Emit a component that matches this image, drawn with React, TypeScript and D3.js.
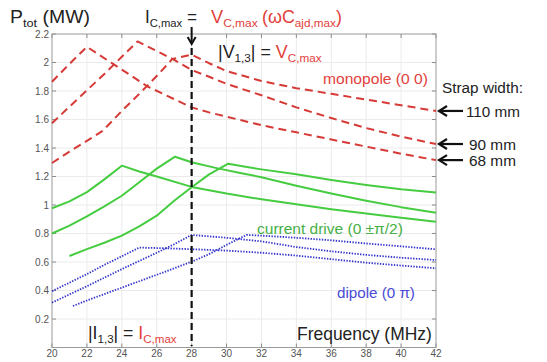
import React, { useLayoutEffect, useRef, useState } from "react";
import * as d3 from "d3";

// ---- data (frequency in MHz, P_tot in MW) ----
const xTicks = [20, 22, 24, 26, 28, 30, 32, 34, 36, 38, 40, 42];
const yTicks = [0.2, 0.4, 0.6, 0.8, 1, 1.2, 1.4, 1.6, 1.8, 2, 2.2];

const freqMono68 = [20, 21, 22, 23.5, 25.5, 28, 29, 30, 32, 34, 36, 38, 40, 42];
const ptotMono68 = [1.865, 1.99, 2.11, 1.99, 1.83, 1.685, 1.65, 1.62, 1.56, 1.51, 1.46, 1.41, 1.36, 1.315];

const freqMono90 = [20, 21, 22, 23, 24, 24.9, 26, 26.9, 28, 29, 30, 32, 34, 36, 38, 40, 42];
const ptotMono90 = [1.573, 1.69, 1.805, 1.92, 2.04, 2.148, 2.08, 2.025, 1.947, 1.9, 1.85, 1.77, 1.685, 1.61, 1.54, 1.48, 1.428];

const freqMono110 = [20, 21, 22, 22.9, 24, 25, 26, 26.9, 28, 29, 30, 32, 34, 36, 38, 40, 42];
const ptotMono110 = [1.295, 1.375, 1.45, 1.52, 1.66, 1.78, 1.905, 2.025, 2.055, 1.995, 1.94, 1.87, 1.82, 1.78, 1.74, 1.7, 1.66];

const freqCur68 = [20, 21, 22, 23, 24, 25, 26, 28, 30, 32, 34, 36, 38, 40, 42];
const ptotCur68 = [0.977, 1.025, 1.09, 1.18, 1.276, 1.235, 1.2, 1.127, 1.08, 1.04, 1.005, 0.97, 0.94, 0.91, 0.883];

const freqCur90 = [20, 21, 22, 23, 24, 25, 26, 27.05, 28, 29.5, 31, 32, 34, 36, 38, 40, 42];
const ptotCur90 = [0.8, 0.855, 0.92, 0.99, 1.065, 1.16, 1.255, 1.339, 1.3, 1.257, 1.22, 1.195, 1.135, 1.08, 1.03, 0.985, 0.946];

const freqCur110 = [21, 22, 23, 24, 25, 26, 27, 28, 29, 30.1, 31, 32, 34, 36, 38, 40, 42];
const ptotCur110 = [0.642, 0.69, 0.735, 0.785, 0.85, 0.925, 1.03, 1.125, 1.215, 1.29, 1.27, 1.25, 1.215, 1.175, 1.14, 1.11, 1.087];

const freqDip68 = [20, 21, 22, 23, 24, 25, 26, 28, 30, 32, 34, 36, 38, 40, 42];
const ptotDip68 = [0.395, 0.455, 0.515, 0.58, 0.64, 0.701, 0.698, 0.69, 0.68, 0.665, 0.645, 0.62, 0.595, 0.575, 0.556];

const freqDip90 = [20, 22, 24, 26, 27, 28, 30, 32, 34, 36, 38, 40, 42];
const ptotDip90 = [0.315, 0.43, 0.55, 0.665, 0.725, 0.79, 0.77, 0.745, 0.705, 0.675, 0.65, 0.63, 0.614];

const freqDip110 = [21.2, 22, 24, 26, 28, 29, 30, 31.15, 32, 34, 36, 38, 40, 42];
const ptotDip110 = [0.291, 0.33, 0.42, 0.51, 0.602, 0.655, 0.72, 0.79, 0.785, 0.77, 0.752, 0.73, 0.71, 0.689];

const strapLabels = ["110 mm", "90 mm", "68 mm"];
const strapEnds = [ptotMono110[ptotMono110.length - 1], ptotMono90[ptotMono90.length - 1], ptotMono68[ptotMono68.length - 1]];
const markerFreq = 28;

const RED_LINE = "#d63a36";
const RED_TEXT = "#e2403b";
const GREEN_LINE = "#46cc40";
const GREEN_TEXT = "#45b045";
const BLUE_LINE = "#3434cc";
const BLUE_TEXT = "#4a4ad6";
const FONT = "'Liberation Sans', Arial, Helvetica, sans-serif";

// Text whose horizontal extent is fitted to a target width (x = left edge, y = baseline)
function FitText({ x, y, width, children, ...rest }: any) {
  const ref = useRef<SVGTextElement>(null);
  const [s, setS] = useState(1);
  useLayoutEffect(() => {
    if (ref.current) {
      const w = ref.current.getBBox().width;
      if (w > 0) setS(width / w);
    }
  }, [width]);
  return (
    <g transform={`translate(${x},${y}) scale(${s},1)`}>
      <text ref={ref} x={0} y={0} {...rest}>{children}</text>
    </g>
  );
}

export default function App() {
  const W = 547, H = 362;
  const x = d3.scaleLinear().domain([20, 42]).range([52, 436]);
  const y = d3.scaleLinear().domain([0, 2.2]).range([347.5, 34]);
  const line = d3.line<[number, number]>().x((d) => x(d[0])).y((d) => y(d[1]));
  const path = (xs: number[], ys: number[]) => line(xs.map((v, i) => [v, ys[i]] as [number, number])) || "";

  const series = [
    { xs: freqMono68, ys: ptotMono68, color: RED_LINE, dash: "8,5", w: 2 },
    { xs: freqMono90, ys: ptotMono90, color: RED_LINE, dash: "8,5", w: 2 },
    { xs: freqMono110, ys: ptotMono110, color: RED_LINE, dash: "8,5", w: 2 },
    { xs: freqCur68, ys: ptotCur68, color: GREEN_LINE, dash: null, w: 2 },
    { xs: freqCur90, ys: ptotCur90, color: GREEN_LINE, dash: null, w: 2 },
    { xs: freqCur110, ys: ptotCur110, color: GREEN_LINE, dash: null, w: 2 },
    { xs: freqDip68, ys: ptotDip68, color: BLUE_LINE, dash: "1.4,1.4", w: 1.8 },
    { xs: freqDip90, ys: ptotDip90, color: BLUE_LINE, dash: "1.4,1.4", w: 1.8 },
    { xs: freqDip110, ys: ptotDip110, color: BLUE_LINE, dash: "1.4,1.4", w: 1.8 },
  ];

  const x0 = x(20), x1 = x(42), y0 = y(0), y1 = y(2.2);
  const xm = x(markerFreq);
  const big = 17.5, sub = 11.5, lab = 15.5;

  return (
    <svg width={W} height={H} style={{ position: "absolute", left: 0, top: 0, background: "#fff" }} fontFamily={FONT}>
      <rect x={0} y={0} width={W} height={H} fill="#fff" />
      {/* grid */}
      {xTicks.slice(1, -1).map((t) => (
        <line key={"gx" + t} x1={x(t)} x2={x(t)} y1={y1} y2={y0} stroke="#ebebeb" strokeWidth={1} />
      ))}
      {yTicks.slice(0, -1).map((t) => (
        <line key={"gy" + t} x1={x0} x2={x1} y1={y(t)} y2={y(t)} stroke="#ebebeb" strokeWidth={1} />
      ))}
      {/* ticks */}
      {xTicks.map((t) => (
        <g key={"tx" + t}>
          <line x1={x(t)} x2={x(t)} y1={y0} y2={y0 - 4} stroke="#8a8a8a" />
          <line x1={x(t)} x2={x(t)} y1={y1} y2={y1 + 4} stroke="#8a8a8a" />
          <text x={x(t)} y={357} fontSize={10} fill="#555" textAnchor="middle">{t}</text>
        </g>
      ))}
      {yTicks.map((t) => (
        <g key={"ty" + t}>
          <line x1={x0} x2={x0 + 4} y1={y(t)} y2={y(t)} stroke="#8a8a8a" />
          <line x1={x1} x2={x1 - 4} y1={y(t)} y2={y(t)} stroke="#8a8a8a" />
          <text x={49} y={y(t) + 3.5} fontSize={10} fill="#555" textAnchor="end">{d3.format("~g")(t)}</text>
        </g>
      ))}
      <rect x={x0} y={y1} width={x1 - x0} height={y0 - y1} fill="none" stroke="#9a9a9a" strokeWidth={1} />

      {/* curves */}
      {series.map((s, i) => (
        <path key={i} d={path(s.xs, s.ys)} fill="none" stroke={s.color} strokeWidth={s.w}
          strokeDasharray={s.dash || undefined} strokeLinejoin="round" />
      ))}

      {/* marker line at 28 MHz */}
      <line x1={xm} x2={xm} y1={48} y2={346} stroke="#111" strokeWidth={2.2} strokeDasharray="7,4" />
      <line x1={xm} x2={xm} y1={27} y2={42} stroke="#111" strokeWidth={2} />
      <path d={`M${xm - 4},${37} L${xm},${44} L${xm + 4},${37}`} fill="none" stroke="#111" strokeWidth={2} />

      {/* titles */}
      <FitText x={10} y={23} width={80} fontSize={big} fill="#222">
        P<tspan fontSize={sub} dy={4}>tot</tspan><tspan dy={-4}> (MW)</tspan>
      </FitText>
      <FitText x={145} y={23} width={52} fontSize={big} fill="#222">
        I<tspan fontSize={sub} dy={4}>C,max</tspan><tspan dy={-4}> =</tspan>
      </FitText>
      <FitText x={211} y={23} width={47} fontSize={big} fill={RED_TEXT}>
        V<tspan fontSize={sub} dy={4}>C,max</tspan>
      </FitText>
      <FitText x={262} y={23} width={80} fontSize={big} fill={RED_TEXT}>
        (ωC<tspan fontSize={sub} dy={4}>ajd,max</tspan><tspan dy={-4}>)</tspan>
      </FitText>
      <FitText x={218} y={58} width={104} fontSize={big} fill="#222">
        |V<tspan fontSize={sub} dy={4}>1,3</tspan><tspan dy={-4}>| = </tspan><tspan fill={RED_TEXT}>V</tspan><tspan fill={RED_TEXT} fontSize={sub} dy={4}>C,max</tspan>
      </FitText>
      <FitText x={88} y={339} width={89} fontSize={big} fill="#222">
        |I<tspan fontSize={sub} dy={4}>1,3</tspan><tspan dy={-4}>| = </tspan><tspan fill={RED_TEXT}>I</tspan><tspan fill={RED_TEXT} fontSize={sub} dy={4}>C,max</tspan>
      </FitText>
      <FitText x={297} y={340} width={135} fontSize={big} fill="#222">Frequency (MHz)</FitText>

      {/* series labels */}
      <FitText x={323} y={84} width={105} fontSize={lab} fill={RED_TEXT}>monopole (0 0)</FitText>
      <FitText x={257} y={233.5} width={146} fontSize={lab} fill={GREEN_TEXT}>current drive (0 ±π/2)</FitText>
      <FitText x={337} y={298} width={78} fontSize={lab} fill={BLUE_TEXT}>dipole (0 π)</FitText>

      {/* strap widths */}
      <FitText x={442} y={93} width={81} fontSize={lab} fill="#222">Strap width:</FitText>
      {strapLabels.map((s, i) => {
        const yy = y(strapEnds[i]);
        const ax = 439;
        return (
          <g key={s}>
            <line x1={ax + 1} x2={ax + 24} y1={yy} y2={yy} stroke="#111" strokeWidth={2.2} />
            <path d={`M${ax + 8},${yy - 5} L${ax},${yy} L${ax + 8},${yy + 5}`} fill="none" stroke="#111" strokeWidth={2.2} />
            <FitText x={i === 0 ? 466 : 469} y={yy + 6} width={i === 0 ? 54 : 47} fontSize={lab} fill="#222">{s}</FitText>
          </g>
        );
      })}
    </svg>
  );
}
